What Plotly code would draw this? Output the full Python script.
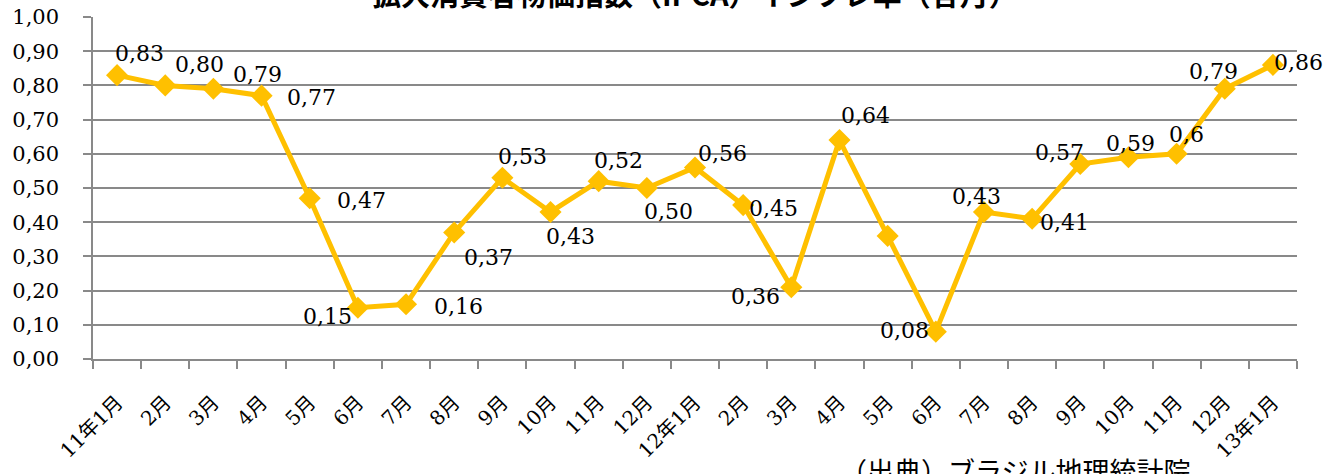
import plotly.graph_objects as go

# 月次データ (IPCA, %)
months = ["11年1月", "2月", "3月", "4月", "5月", "6月", "7月", "8月", "9月", "10月", "11月", "12月",
          "12年1月", "2月", "3月", "4月", "5月", "6月", "7月", "8月", "9月", "10月", "11月", "12月",
          "13年1月"]
ipca = [0.83, 0.80, 0.79, 0.77, 0.47, 0.15, 0.16, 0.37, 0.53, 0.43, 0.52, 0.50,
        0.56, 0.45, 0.21, 0.64, 0.36, 0.08, 0.43, 0.41, 0.57, 0.59, 0.60, 0.79,
        0.86]
# labels as they appear on the chart (one is misplaced, one is missing)
label_text = ["0,83", "0,80", "0,79", "0,77", "0,47", "0,15", "0,16", "0,37", "0,53", "0,43", "0,52", "0,50",
              "0,56", "0,45", "0,36", "0,64", "", "0,08", "0,43", "0,41", "0,57", "0,59", "0,6", "0,79",
              "0,86"]
# label offsets from the point, px (dx right, dy down)
label_off = [(22, -22), (34, -21), (44, -14), (50, 2), (52, 2), (-30, 9), (52, 2), (34, 25),
             (20, -21), (20, 25), (20, -21), (22, 23), (27, -14), (30, 3), (-36, 9), (26, -25),
             (0, 0), (-31, -1), (-7, -15), (32, 4), (-21, -12), (2, -14), (10, -19), (-11, -17),
             (26, -2)]

GOLD = "#FFC000"
GRAY = "#898989"
SERIF = "DejaVu Serif, Noto Sans CJK JP"

x = list(range(len(months)))

fig = go.Figure(go.Scatter(
    x=x, y=ipca, mode="lines+markers",
    line=dict(color=GOLD, width=5),
    marker=dict(symbol="diamond", size=17, color=GOLD),
    hoverinfo="skip",
))

for i, (t, (dx, dy)) in enumerate(zip(label_text, label_off)):
    if not t:
        continue
    fig.add_annotation(x=x[i], y=ipca[i], text=t, showarrow=False,
                       xshift=dx, yshift=-dy, xanchor="center", yanchor="middle",
                       font=dict(family=SERIF, size=22, color="#000000"))

fig.add_annotation(xref="paper", yref="paper", x=0.5, y=1.004,
                   text="<b>拡大消費者物価指数（IPCA）インフレ率（各月）</b>",
                   showarrow=False, xanchor="center", yanchor="bottom",
                   font=dict(family="Noto Sans CJK JP", size=29, color="#000000"))
fig.add_annotation(xref="paper", yref="paper", x=0.766, y=-0.263,
                   text="（出典）ブラジル地理統計院",
                   showarrow=False, xanchor="center", yanchor="top",
                   font=dict(family="Noto Sans CJK JP", size=27, color="#000000"))

fig.update_layout(
    width=1330, height=474,
    margin=dict(l=93, r=33, t=17, b=115),
    paper_bgcolor="white", plot_bgcolor="white",
    separators=",.",
    showlegend=False,
    xaxis=dict(
        range=[-0.5, len(months) - 0.5], automargin=False,
        tickmode="array", tickvals=x, ticktext=months, tickangle=-45,
        ticks="", showgrid=False, zeroline=False,
        showline=True, linecolor=GRAY, linewidth=1.5,
        ticklabelstandoff=22,
        tickfont=dict(family=SERIF, size=20, color="#000000"),
        minor=dict(tickmode="linear", tick0=-0.5, dtick=1, ticks="outside",
                   ticklen=8, tickcolor=GRAY, tickwidth=1.5, showgrid=False),
    ),
    yaxis=dict(
        range=[0, 1], dtick=0.1, tickformat=".2f", automargin=False,
        ticks="outside", ticklen=8, tickcolor=GRAY, tickwidth=1.5,
        showgrid=True, gridcolor=GRAY, gridwidth=1.5, zeroline=False,
        showline=True, linecolor=GRAY, linewidth=1.5,
        ticklabelstandoff=20,
        tickfont=dict(family=SERIF, size=21, color="#000000"),
    ),
)

# page body has a default 8px margin; drop it so the figure fills the window
fig.write_html("out.html", config={"displayModeBar": False},
               post_script="document.body.style.margin='0';")
